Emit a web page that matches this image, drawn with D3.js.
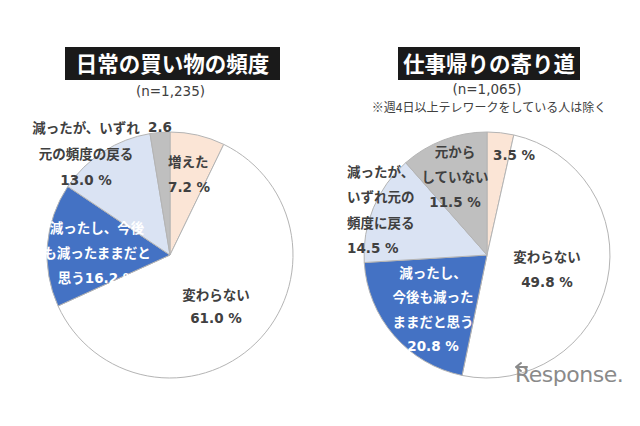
<!DOCTYPE html>
<html>
<head>
<meta charset="utf-8">
<script src="https://cdn.jsdelivr.net/npm/d3@7/dist/d3.min.js"></script>
<style>
  html, body { margin: 0; padding: 0; background: #ffffff; }
  svg { display: block; }
</style>
</head>
<body>
<script>
// ---------- DATA ----------
const categories = ["増えた", "変わらない", "減ったし、今後も減ったままだと思う", "減ったが、いずれ元の頻度に戻る", "元からしていない"];
const shoppingValues = [7.2, 61.0, 16.2, 13.0, 2.6];
const commuteValues = [3.5, 49.8, 20.8, 14.5, 11.5];
const chartTitles = ["日常の買い物の頻度", "仕事帰りの寄り道"];
const sampleSizes = ["(n=1,235)", "(n=1,065)"];
const commuteNote = "※週4日以上テレワークをしている人は除く";
// label lines per slice; {v} is replaced by the slice value
const shoppingLabelLines = [
  ["増えた", "{v} %"],
  ["変わらない", "{v} %"],
  ["減ったし、今後", "も減ったままだと", "思う{v} %"],
  ["減ったが、いずれ", "元の頻度の戻る", "{v} %"],
  ["{v}"]
];
const commuteLabelLines = [
  ["{v} %"],
  ["変わらない", "{v} %"],
  ["減ったし、", "今後も減った", "ままだと思う", "{v} %"],
  ["減ったが、", "いずれ元の", "頻度に戻る", "{v} %"],
  ["元から", "していない", "{v} %"]
];

// ---------- LAYOUT / STYLE ----------
const W = 640, H = 426;
const sliceColors = ["#FBE5D6", "#FFFFFF", "#4472C4", "#DAE3F3", "#BFBFBF"];
const labelColors = ["#404040", "#404040", "#FFFFFF", "#404040", "#404040"];
const radius = 123;
const charts = [
  {
    cx: 170, cy: 255, values: shoppingValues, lines: shoppingLabelLines,
    titleBox: {cx: 172.5, y: 47, w: 215, h: 33}, nY: 96, noteY: null,
    layout: [
      {dx: -2,  dy: -93,  anchor: "start",  lh: 25},
      {dx: 46,  dy: 40,   anchor: "middle", lh: 23},
      {dx: -73, dy: -27,  anchor: "middle", lh: 25},
      {dx: -84, dy: -127, anchor: "middle", lh: 26},
      {dx: -10, dy: -128, anchor: "middle", lh: 25}
    ]
  },
  {
    cx: 487, cy: 255, values: commuteValues, lines: commuteLabelLines,
    titleBox: {cx: 489, y: 47, w: 182, h: 33}, nY: 94, noteY: 112,
    layout: [
      {dx: 6,    dy: -100, anchor: "start",  lh: 25},
      {dx: 60,   dy: 2,    anchor: "middle", lh: 25},
      {dx: -54,  dy: 18,   anchor: "middle", lh: 24.5},
      {dx: -140, dy: -83,  anchor: "start",  lh: 25.5},
      {dx: -32,  dy: -103, anchor: "middle", lh: 25}
    ]
  }
];
const labelFont = "'DejaVu Sans', 'Noto Sans CJK JP', sans-serif";
const cjkFont = "'Noto Sans CJK JP', 'DejaVu Sans', sans-serif";
const labelSize = 13.5;

const svg = d3.select("body").append("svg")
  .attr("width", W).attr("height", H)
  .attr("viewBox", `0 0 ${W} ${H}`);

const pie = d3.pie().sort(null).value(d => d.value);
const arc = d3.arc().innerRadius(0).outerRadius(radius);
const fmt = d3.format(".1f");

charts.forEach((c, ci) => {
  // Title box
  const tb = c.titleBox;
  svg.append("rect")
    .attr("x", tb.cx - tb.w / 2).attr("y", tb.y)
    .attr("width", tb.w).attr("height", tb.h)
    .attr("fill", "#1a1a1a");
  svg.append("text")
    .attr("x", tb.cx).attr("y", tb.y + tb.h / 2 + 8)
    .attr("text-anchor", "middle")
    .attr("font-family", cjkFont)
    .attr("font-weight", "bold")
    .attr("font-size", 21.5)
    .attr("fill", "#ffffff")
    .text(chartTitles[ci]);
  // n
  svg.append("text")
    .attr("x", tb.cx - 2).attr("y", c.nY)
    .attr("text-anchor", "middle")
    .attr("font-family", labelFont)
    .attr("font-size", 13.5)
    .attr("fill", "#404040")
    .text(sampleSizes[ci]);
  if (c.noteY !== null) {
    svg.append("text")
      .attr("x", tb.cx).attr("y", c.noteY)
      .attr("text-anchor", "middle")
      .attr("font-family", cjkFont)
      .attr("font-size", 12)
      .attr("fill", "#404040")
      .text(commuteNote);
  }

  const data = categories.map((cat, i) => ({cat, value: c.values[i], i}));
  const g = svg.append("g").attr("transform", `translate(${c.cx},${c.cy})`);
  g.selectAll("path.slice")
    .data(pie(data))
    .join("path")
    .attr("class", "slice")
    .attr("d", arc)
    .attr("fill", d => sliceColors[d.data.i])
    .attr("stroke", "#B4B4B4")
    .attr("stroke-width", 1)
    .attr("stroke-linejoin", "round");

  // Labels
  data.forEach((d, i) => {
    const L = c.layout[i];
    const lines = c.lines[i].map(s => s.replace("{v}", fmt(d.value)));
    const t = g.append("text")
      .attr("text-anchor", L.anchor)
      .attr("font-family", labelFont)
      .attr("font-weight", "bold")
      .attr("font-size", labelSize)
      .attr("fill", labelColors[i]);
    lines.forEach((ln, k) => {
      t.append("tspan")
        .attr("x", L.dx)
        .attr("y", L.dy + k * L.lh + labelSize * 0.36)
        .text(ln);
    });
  });
});

// Watermark
const wm = svg.append("g").attr("transform", "translate(513,382)");
wm.append("path")
  .attr("d", "M14,-15 L3,-15 M3,-15 L8,-19 M3,-15 L8,-11")
  .attr("stroke", "#8a8a8a").attr("stroke-width", 2).attr("fill", "none")
  .attr("stroke-linecap", "round");
wm.append("text")
  .attr("x", 2).attr("y", 0)
  .attr("font-family", "'DejaVu Sans', sans-serif")
  .attr("font-size", 22)
  .attr("fill", "#8a8a8a")
  .attr("letter-spacing", -0.5)
  .text("Response.");
</script>
</body>
</html>
